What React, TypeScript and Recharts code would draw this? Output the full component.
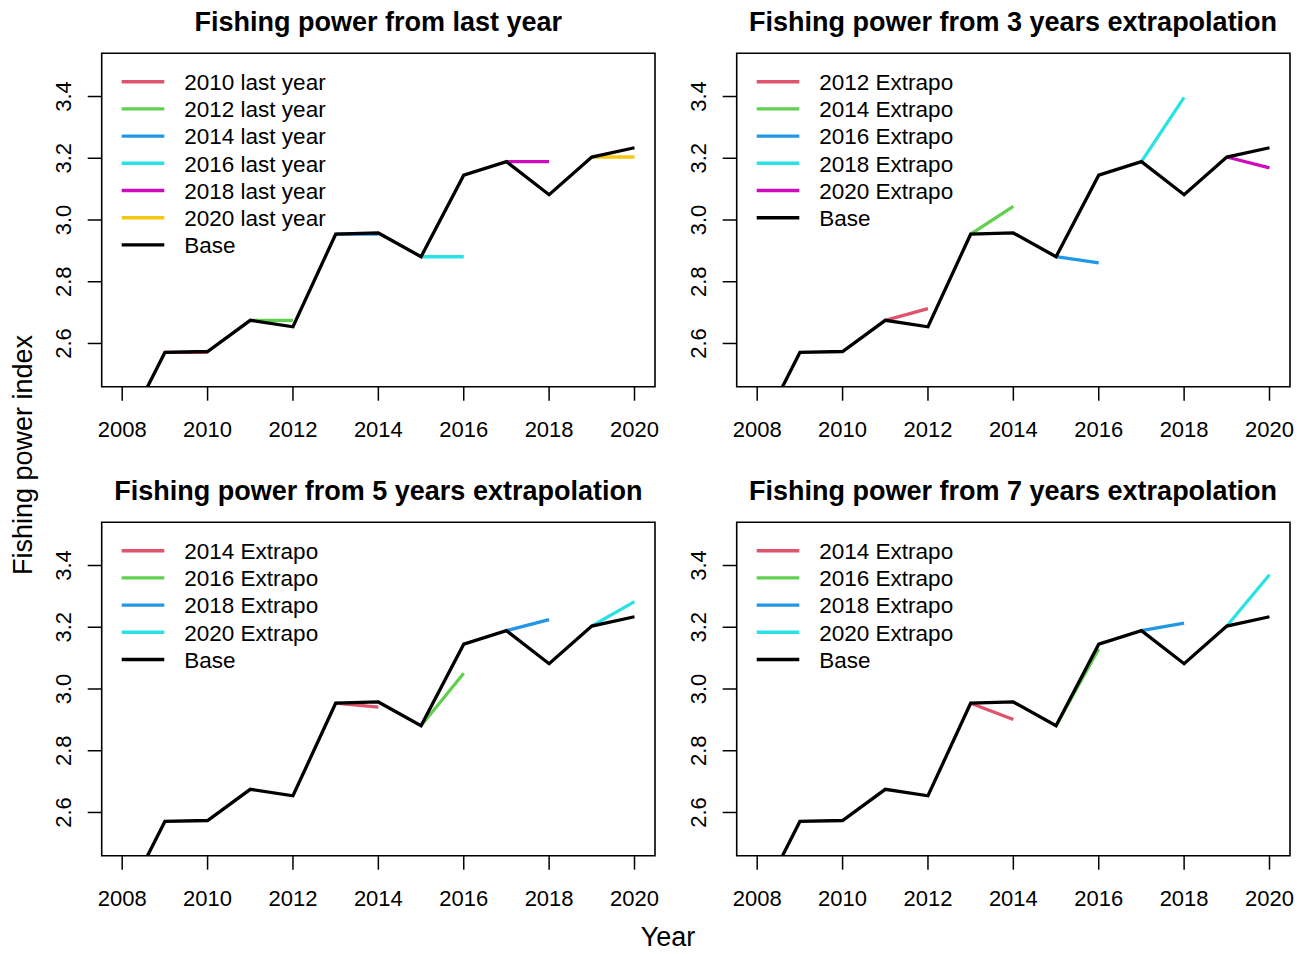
import React from 'react';
import { LineChart, Line, XAxis, YAxis, ReferenceArea, Legend } from 'recharts';

// ---------- data ----------
const years = [2008, 2009, 2010, 2011, 2012, 2013, 2014, 2015, 2016, 2017, 2018, 2019, 2020];
const baseValues = [2.298, 2.571, 2.574, 2.675, 2.654, 2.954, 2.958, 2.881, 3.145, 3.189, 3.082, 3.204, 3.234];

const xTicks = [2008, 2010, 2012, 2014, 2016, 2018, 2020];
const yTicks = [2.6, 2.8, 3.0, 3.2, 3.4];

const palette = ['#DF536B', '#61D04F', '#2297E6', '#28E2E5', '#CD0BBC', '#F5C710'];

const lastYearTargets = [2010, 2012, 2014, 2016, 2018, 2020];
const lastYearValues = [2.571, 2.675, 2.954, 2.881, 3.189, 3.204];

const extrap3Targets = [2012, 2014, 2016, 2018, 2020];
const extrap3Values = [2.713, 3.044, 2.861, 3.397, 3.169];

const extrap5Targets = [2014, 2016, 2018, 2020];
const extrap5Values = [2.941, 3.051, 3.225, 3.283];

const extrap7Targets = [2014, 2016, 2018, 2020];
const extrap7Values = [2.901, 3.130, 3.213, 3.370];

const panelTitles = [
  'Fishing power from last year',
  'Fishing power from 3 years extrapolation',
  'Fishing power from 5 years extrapolation',
  'Fishing power from 7 years extrapolation',
];

// ---------- layout ----------
const FONT = '"Liberation Sans", Arial, Helvetica, sans-serif';
const XMIN = 2007.52;
const XMAX = 2020.48;
const YMIN = 2.46;
const YMAX = 3.54;

const CELL_W = 675;
const CELL_H = 469.4;
const COL_OFFSET = 634.7;
const BOX_LEFT = 101.7;
const BOX_TOP = 53.3;
const BOX_RIGHT = 655;
const BOX_BOTTOM = 386.7;
const Y_AXIS_W = 60;
const X_AXIS_H = 60;
const TICK = 14;

const baseData = years.map((x, i) => ({ x, y: baseValues[i] }));
const baseAt = (yr: number) => baseValues[years.indexOf(yr)];

const XTick = (props: any) => {
  const { x, y, payload } = props;
  return (
    <text x={x} y={y + 36.6} textAnchor="middle" fontSize={22} fontFamily={FONT} fill="#000">
      {payload.value}
    </text>
  );
};

const YTick = (props: any) => {
  const { x, y, payload } = props;
  const bx = x - 17;
  return (
    <text
      x={bx}
      y={y}
      transform={`rotate(-90 ${bx} ${y})`}
      textAnchor="middle"
      fontSize={22}
      fontFamily={FONT}
      fill="#000"
    >
      {Number(payload.value).toFixed(1)}
    </text>
  );
};

type Item = { label: string; color: string };

const LegendBox = ({ items }: { items: Item[] }) => {
  const rowH = 27.2;
  const firstY = 81.7 - 60;
  return (
    <svg width={260} height={firstY + rowH * items.length + 10} style={{ display: 'block', overflow: 'visible' }}>
      {items.map((it, i) => {
        const yy = firstY + i * rowH;
        return (
          <g key={it.label}>
            <line x1={11.7} x2={54.3} y1={yy} y2={yy} stroke={it.color} strokeWidth={3.4} />
            <text x={74.3} y={yy + 8.2} fontSize={22.5} fontFamily={FONT} fill="#000">
              {it.label}
            </text>
          </g>
        );
      })}
    </svg>
  );
};

type PanelProps = {
  left: number;
  top: number;
  targets: number[];
  values: number[];
  suffix: string;
};

const Panel = ({ left, top, targets, values, suffix }: PanelProps) => {
  const segments = targets.map((t, i) => ({
    key: `${t} ${suffix}`,
    color: palette[i],
    data: [
      { x: t - 1, y: baseAt(t - 1) },
      { x: t, y: values[i] },
    ],
  }));
  const items: Item[] = [
    ...segments.map((s) => ({ label: s.key, color: s.color })),
    { label: 'Base', color: '#000' },
  ];
  return (
    <div style={{ position: 'absolute', left, top, width: CELL_W, height: CELL_H }}>
      <LineChart
        width={CELL_W}
        height={CELL_H}
        margin={{
          top: BOX_TOP,
          left: BOX_LEFT - Y_AXIS_W,
          right: CELL_W - BOX_RIGHT,
          bottom: CELL_H - BOX_BOTTOM - X_AXIS_H,
        }}
      >
        <XAxis
          dataKey="x"
          type="number"
          domain={[XMIN, XMAX]}
          ticks={xTicks}
          allowDataOverflow
          height={X_AXIS_H}
          axisLine={false}
          tickSize={TICK}
          tickMargin={0}
          tickLine={{ stroke: '#000', strokeWidth: 1.5 }}
          stroke="#000"
          tick={<XTick />}
          interval={0}
        />
        <YAxis
          type="number"
          domain={[YMIN, YMAX]}
          ticks={yTicks}
          allowDataOverflow
          width={Y_AXIS_W}
          axisLine={false}
          tickSize={TICK}
          tickMargin={0}
          tickLine={{ stroke: '#000', strokeWidth: 1.5 }}
          stroke="#000"
          tick={<YTick />}
          interval={0}
        />
        <ReferenceArea
          x1={XMIN}
          x2={XMAX}
          y1={YMIN}
          y2={YMAX}
          fill="none"
          stroke="#000"
          strokeWidth={1.6}
          ifOverflow="visible"
        />
        {segments.map((s) => (
          <Line
            key={s.key}
            data={s.data}
            dataKey="y"
            type="linear"
            stroke={s.color}
            strokeWidth={3.3}
            dot={false}
            activeDot={false}
            isAnimationActive={false}
          />
        ))}
        <Line
          data={baseData}
          dataKey="y"
          type="linear"
          stroke="#000"
          strokeWidth={3.3}
          dot={false}
          activeDot={false}
          isAnimationActive={false}
        />
        <Legend
          layout="vertical"
          align="center"
          verticalAlign="middle"
          wrapperStyle={{ left: 110, top: 60, width: 260, height: 210 }}
          content={() => <LegendBox items={items} />}
        />
      </LineChart>
    </div>
  );
};

export default function App() {
  const panels = [
    { left: 0, top: 0, targets: lastYearTargets, values: lastYearValues, suffix: 'last year' },
    { left: COL_OFFSET, top: 0, targets: extrap3Targets, values: extrap3Values, suffix: 'Extrapo' },
    { left: 0, top: CELL_H, targets: extrap5Targets, values: extrap5Values, suffix: 'Extrapo' },
    { left: COL_OFFSET, top: CELL_H, targets: extrap7Targets, values: extrap7Values, suffix: 'Extrapo' },
  ];
  return (
    <div
      style={{
        position: 'absolute',
        left: 0,
        top: 0,
        width: 1311,
        height: 954,
        background: '#fff',
        fontFamily: FONT,
      }}
    >
      {panels.map((p, i) => (
        <Panel key={i} {...p} />
      ))}
      <svg
        width={1311}
        height={954}
        style={{ position: 'absolute', left: 0, top: 0, pointerEvents: 'none' }}
      >
        {panels.map((p, i) => (
          <text
            key={i}
            x={p.left + (BOX_LEFT + BOX_RIGHT) / 2}
            y={p.top + 30.7}
            textAnchor="middle"
            fontSize={27}
            fontWeight="bold"
            fontFamily={FONT}
            fill="#000"
          >
            {panelTitles[i]}
          </text>
        ))}
        <text x={668} y={946} textAnchor="middle" fontSize={27} fontFamily={FONT} fill="#000">
          Year
        </text>
        <text
          x={31.5}
          y={455}
          transform="rotate(-90 31.5 455)"
          textAnchor="middle"
          fontSize={27}
          fontFamily={FONT}
          fill="#000"
        >
          Fishing power index
        </text>
      </svg>
    </div>
  );
}
